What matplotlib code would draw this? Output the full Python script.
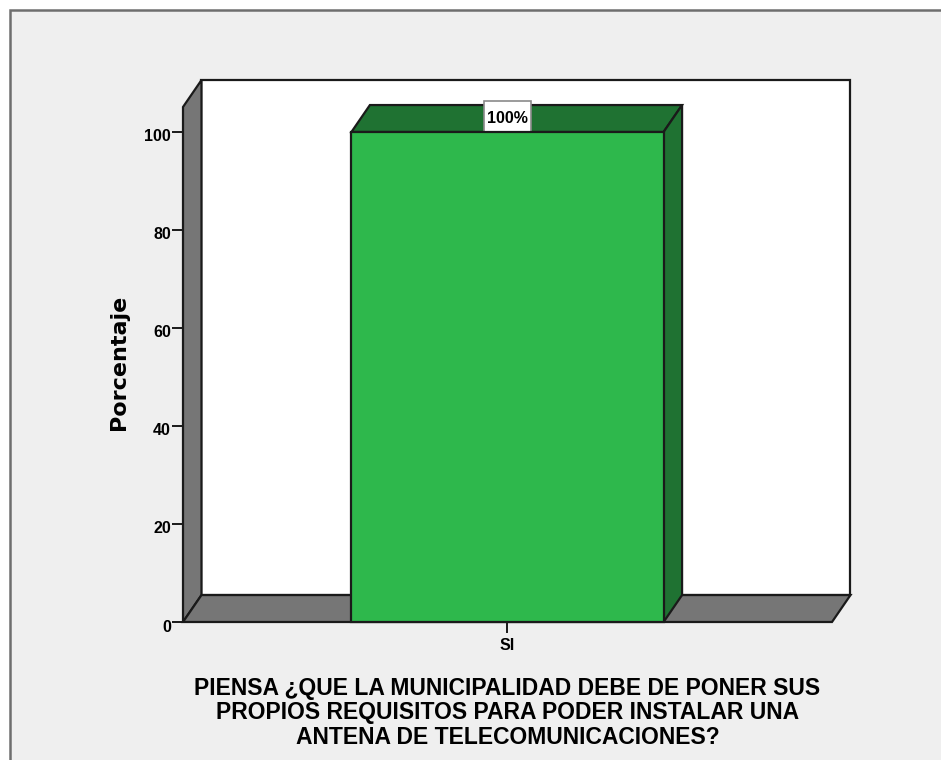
import matplotlib
matplotlib.use("Agg")
import matplotlib.pyplot as plt
from matplotlib.patches import Polygon, Rectangle
from matplotlib.transforms import ScaledTranslation

categories = ["SI"]
values = [100]
value_labels = ["100%"]
y_ticks = [0, 20, 40, 60, 80, 100]
y_label = "Porcentaje"
x_title = "PIENSA ¿QUE LA MUNICIPALIDAD DEBE DE PONER SUS\nPROPIOS REQUISITOS PARA PODER INSTALAR UNA\nANTENA DE TELECOMUNICACIONES?"

W, H = 941, 760
plt.rcParams["font.family"] = ["Liberation Sans", "DejaVu Sans"]
fig = plt.figure(figsize=(W / 100, H / 100), dpi=100, facecolor="white")

# chart frame
fig.add_artist(Rectangle((10 / W, -0.01), 1, 1.01 - 10 / H, transform=fig.transFigure,
                         facecolor="#efefef", edgecolor="#6e6e6e", linewidth=1.8, zorder=-5))

ax = fig.add_axes([183 / W, 1 - 622 / H, (832 - 183) / W, (622 - 107) / H], zorder=2)
ax.set_facecolor("none")
ax.set_xlim(-0.5, 0.5)
ax.set_ylim(0, 105.1)
for s in ax.spines.values():
    s.set_visible(False)

DX, DY = 0.0285, 5.5
L, R, T = -0.5, 0.5, 105.1
INK = "#1a1a1a"
def poly(pts, fc, z, lw=1.6):
    ax.add_patch(Polygon(pts, closed=True, facecolor=fc, edgecolor=INK, linewidth=lw,
                         joinstyle="miter", clip_on=False, zorder=z))

# 3D walls
poly([(L + DX, DY), (R + DX, DY), (R + DX, T + DY), (L + DX, T + DY)], "white", 1)
poly([(L, 0), (L + DX, DY), (L + DX, T + DY), (L, T)], "#767676", 2)
poly([(L, 0), (R, 0), (R + DX, DY), (L + DX, DY)], "#767676", 2)

# 3D bar
BW = 0.481
BOX_W, BOX_H = 0.0724, 6.3
for i, v in enumerate(values):
    x0, x1 = i - BW / 2, i + BW / 2
    poly([(x0, v), (x1, v), (x1 + DX, v + DY), (x0 + DX, v + DY)], "#1f7232", 3)
    poly([(x1, 0), (x1 + DX, DY), (x1 + DX, v + DY), (x1, v)], "#1f7232", 3)
    poly([(x0, 0), (x1, 0), (x1, v), (x0, v)], "#2eb84c", 4)
    ax.add_patch(Rectangle((i - BOX_W / 2, v), BOX_W, BOX_H, facecolor="white",
                           edgecolor="#8a8a8a", linewidth=1.2, clip_on=False, zorder=3.5))
    ax.annotate(value_labels[i], xy=(i, v), xytext=(0, 13), textcoords="offset pixels",
                ha="center", va="center", fontsize=11.5, fontweight="bold", color="black",
                zorder=6, annotation_clip=False)

ax.set_xticks(range(len(categories)))
ax.set_xticklabels(categories, fontsize=11.5, fontweight="bold")
ax.set_yticks(y_ticks)
ax.set_yticklabels([str(t) for t in y_ticks], fontsize=11.5, fontweight="bold")
ax.tick_params(axis="x", length=8, width=1.4, color=INK, pad=3.5)
ax.tick_params(axis="y", length=8, width=1.4, color=INK, pad=0.6)
shift = ScaledTranslation(0, -3.5 / 100, fig.dpi_scale_trans)
for lab in ax.get_yticklabels():
    lab.set_transform(lab.get_transform() + shift)
ax.set_ylabel(y_label, fontsize=16, fontweight="bold", family="DejaVu Sans")
ax.yaxis.set_label_coords((129 - 183) / (832 - 183), (622 - 362) / (622 - 107))

fig.text(507.5 / W, 1 - 713 / H, x_title, ha="center", va="center", fontsize=16.45,
         fontweight="bold", color="black", linespacing=1.09, zorder=5)

fig.savefig("out.png", dpi=100)
